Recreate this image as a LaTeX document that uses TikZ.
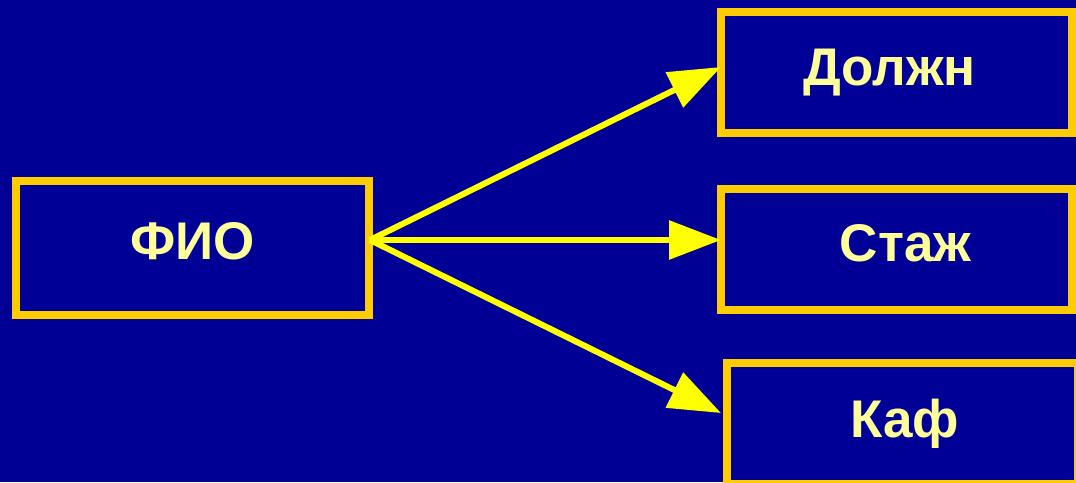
\documentclass[tikz,border=0pt]{standalone}
\usepackage{fontspec}
\setmainfont{Liberation Sans}
\usetikzlibrary{arrows.meta}
\definecolor{bg}{RGB}{0,0,148}
\definecolor{boxfill}{RGB}{0,0,150}
\definecolor{frame}{RGB}{255,204,0}
\definecolor{txt}{RGB}{255,255,153}
\definecolor{arr}{RGB}{255,255,0}
\begin{document}
\begin{tikzpicture}[x=1pt,y=-1pt,
  box/.style={draw=frame, fill=boxfill, line width=8pt, rectangle, inner sep=0pt,
    font=\fontsize{53}{60}\selectfont\bfseries, text=txt},
  link/.style={draw=arr, line width=6pt, -{Triangle[length=52pt,width=38pt]}}]
\fill[bg] (0,0) rectangle (1076,482);
\useasboundingbox (0,0) rectangle (1076,482);
\begin{scope}
\clip (0,0) rectangle (1076,482);
\node[box, minimum width=353pt, minimum height=134pt] (fio) at (192.5,248) {\raisebox{14pt}{ФИО}};
\node[box, minimum width=351pt, minimum height=121pt] (dol) at (896.5,72.5) {\hspace*{-14pt}Должн};
\node[box, minimum width=351pt, minimum height=121pt] (stazh) at (896.5,249.5) {\hspace*{18pt}\raisebox{14pt}{Стаж}};
\node[box, minimum width=351pt, minimum height=121pt] (kaf) at (902.5,423.5) {\hspace*{4pt}\raisebox{5pt}{Каф}};
\end{scope}
\coordinate (s) at (370,240);
\coordinate (tdol) at (721,67);
\coordinate (tst) at (721,240);
\coordinate (tkaf) at (721,413);
\draw[link] (s) -- (tdol);
\draw[link] (s) -- (tst);
\draw[link] (s) -- (tkaf);
\end{tikzpicture}
\end{document}
